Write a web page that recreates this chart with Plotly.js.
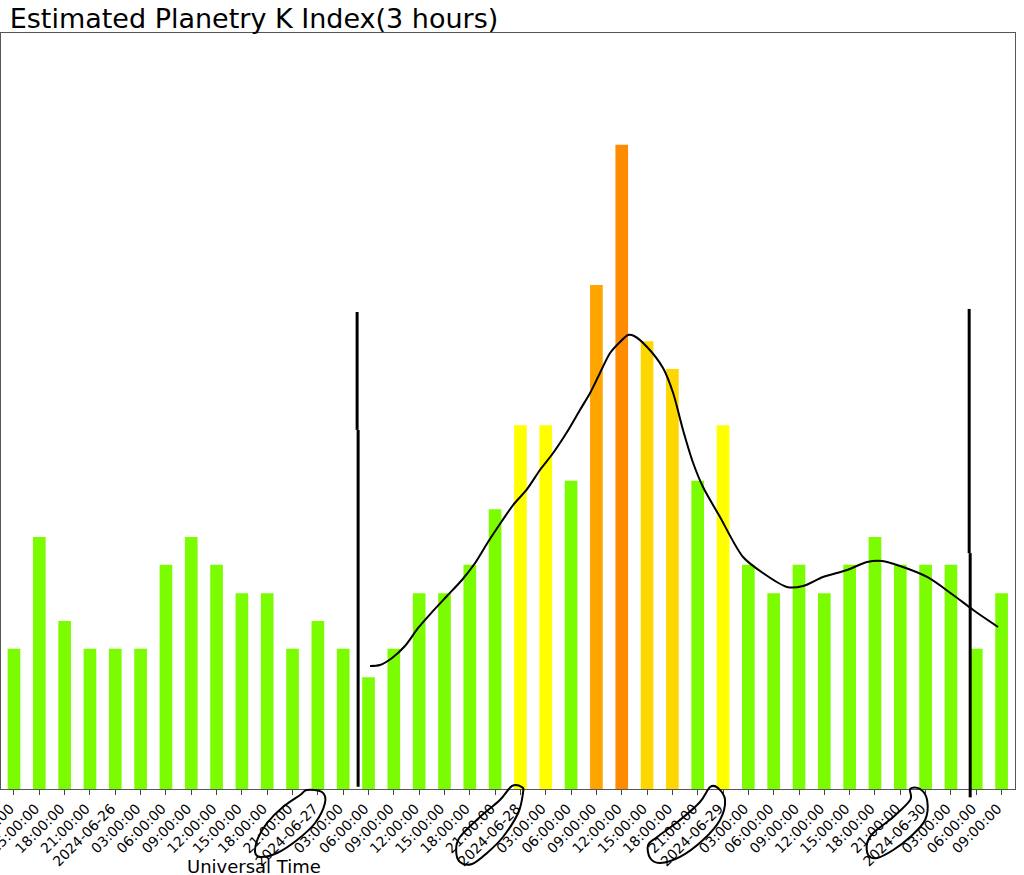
<!DOCTYPE html>
<html>
<head>
<meta charset="utf-8">
<script src="https://cdn.plot.ly/plotly-3.0.1.min.js"></script>
<style>html,body{margin:0;padding:0;background:#fff;}#chart{width:1024px;height:875px;}</style>
</head>
<body>
<div id="chart"></div>
<script>
// Tick labels (3-hour slots, UT)
const tickLabels = [
  "12:00:00","15:00:00","18:00:00","21:00:00","2024-06-26","03:00:00","06:00:00","09:00:00",
  "12:00:00","15:00:00","18:00:00","21:00:00","2024-06-27","03:00:00","06:00:00","09:00:00",
  "12:00:00","15:00:00","18:00:00","21:00:00","2024-06-28","03:00:00","06:00:00","09:00:00",
  "12:00:00","15:00:00","18:00:00","21:00:00","2024-06-29","03:00:00","06:00:00","09:00:00",
  "12:00:00","15:00:00","18:00:00","21:00:00","2024-06-30","03:00:00","06:00:00","09:00:00"
];
// Estimated Kp values
const kpValues = [
  1.67,3.00,2.00,1.67,1.67,1.67,2.67,3.00,
  2.67,2.33,2.33,1.67,2.00,1.67,1.33,1.67,
  2.33,2.33,2.67,3.33,4.33,4.33,3.67,6.00,
  7.67,5.33,5.00,3.67,4.33,2.67,2.33,2.67,
  2.33,2.67,3.00,2.67,2.67,2.67,1.67,2.33
];
// Hand-drawn trend curve (bar index, Kp)
const curveX = [14.06,14.45,14.93,15.44,15.96,16.51,17.10,17.69,18.21,18.72,19.27,19.71,20.26,20.77,21.29,21.84,22.35,22.75,23.14,23.54,23.93,24.25,24.49,25.00,25.63,26.03,26.42,26.82,27.21,27.88,28.79,29.58,30.53,31.16,31.95,32.90,33.69,34.28,34.99,36.06,37.09,37.88,38.86];
const curveY = [1.464,1.476,1.560,1.702,1.917,2.107,2.298,2.488,2.690,2.940,3.190,3.380,3.570,3.798,4.000,4.250,4.512,4.714,4.952,5.190,5.321,5.405,5.393,5.262,5.012,4.714,4.274,3.881,3.595,3.238,2.762,2.571,2.405,2.417,2.524,2.607,2.702,2.714,2.655,2.524,2.310,2.131,1.929];
// Hand-drawn loops round the date labels (bar index, paper y)
const loop1 = [[11.57,-0.0013],[12.16,-0.0040],[12.28,-0.0185],[11.89,-0.0450],[11.18,-0.0675],[10.39,-0.0847],[9.72,-0.0899],[9.52,-0.0833],[9.64,-0.0648],[9.99,-0.0450],[10.62,-0.0238],[11.30,-0.0079]];
const loop2 = [[19.67,0.0040],[20.06,0.0026],[20.10,-0.0053],[19.91,-0.0317],[19.31,-0.0635],[18.68,-0.0847],[18.09,-0.0992],[17.61,-0.0966],[17.46,-0.0807],[17.61,-0.0635],[18.40,-0.0370],[19.19,-0.0146]];
const loop3 = [[27.49,0.0026],[27.80,0.0013],[28.08,-0.0146],[27.88,-0.0410],[27.21,-0.0675],[26.30,-0.0899],[25.51,-0.0979],[25.12,-0.0913],[25.04,-0.0741],[25.40,-0.0635],[26.30,-0.0410],[27.09,-0.0172]];
const loop4 = [[35.39,0.0000],[35.78,0.0000],[36.06,-0.0146],[35.98,-0.0410],[35.39,-0.0635],[34.72,-0.0807],[34.08,-0.0913],[33.73,-0.0873],[33.69,-0.0714],[33.93,-0.0582],[34.72,-0.0370],[35.39,-0.0146]];
// Hand-drawn vertical markers: [x, yStart, yEnd] in (bar index, paper)
const markers = [[13.55,0.631,0.475],[13.59,0.475,0.003],[37.72,0.635,0.312],[37.76,0.312,-0.011]];

function kpColor(v){
  if (v < 4) return "#7CFC00";
  if (v < 5) return "#FFFF00";
  if (v < 6) return "#FFD700";
  if (v < 7) return "#FFA500";
  return "#FF8C00";
}
function closedSpline(pts){
  const n = pts.length;
  let d = "M " + pts[0][0] + "," + pts[0][1];
  for (let k = 0; k < n; k++){
    const p0 = pts[(k-1+n)%n], p1 = pts[k], p2 = pts[(k+1)%n], p3 = pts[(k+2)%n];
    const c1 = [p1[0] + (p2[0]-p0[0])/6, p1[1] + (p2[1]-p0[1])/6];
    const c2 = [p2[0] - (p3[0]-p1[0])/6, p2[1] - (p3[1]-p1[1])/6];
    d += " C " + c1[0] + "," + c1[1] + " " + c2[0] + "," + c2[1] + " " + p2[0] + "," + p2[1];
  }
  return d + " Z";
}

const idx = kpValues.map((_, i) => i);
const traces = [
  {type:"bar", x: idx, y: kpValues, width: 0.5,
   marker:{color: kpValues.map(kpColor), line:{width:0}}, hoverinfo:"skip"},
  {type:"scatter", mode:"lines", x: curveX, y: curveY,
   line:{color:"#000", width:2, shape:"spline", smoothing:0.8}, hoverinfo:"skip"}
];

const shapes = [];
[loop1, loop2, loop3, loop4].forEach(l => shapes.push({
  type:"path", xref:"x", yref:"paper", path: closedSpline(l),
  line:{color:"#000", width:2}, fillcolor:"rgba(0,0,0,0)", layer:"above"
}));
markers.forEach(m => shapes.push({
  type:"line", xref:"x", yref:"paper", x0:m[0], x1:m[0], y0:m[1], y1:m[2],
  line:{color:"#000", width:3}, layer:"above"
}));

const layout = {
  width:1024, height:875,
  margin:{l:1, r:9, t:33, b:86, pad:0},
  paper_bgcolor:"#fff", plot_bgcolor:"#fff",
  showlegend:false,
  font:{family:"DejaVu Sans", color:"#000"},
  title:{text:"Estimated Planetry K Index(3 hours)", font:{size:27, family:"DejaVu Sans", color:"#000"},
         xref:"container", x:254/1024, xanchor:"center", yref:"container", y:1-19/875, yanchor:"middle"},
  xaxis:{range:[-0.513, 39.53], tickmode:"array", tickvals: idx, ticktext: tickLabels,
         tickangle:-45, tickfont:{size:14, family:"DejaVu Sans", color:"#000"},
         ticklabeloverflow:"allow", ticklabelshift:-4, ticklabelstandoff:0,
         ticks:"outside", ticklen:5, tickcolor:"#444", tickwidth:1,
         showline:true, linecolor:"#555", linewidth:1, mirror:true,
         showgrid:false, zeroline:false, automargin:false, fixedrange:true},
  yaxis:{range:[0,9], showticklabels:false, ticks:"", showline:true, linecolor:"#555", linewidth:1,
         mirror:true, showgrid:false, zeroline:false, automargin:false, fixedrange:true},
  shapes: shapes,
  annotations:[{text:"Universal Time", xref:"paper", yref:"paper", x:253/1014, y:-77/756,
                xanchor:"center", yanchor:"middle", showarrow:false,
                font:{size:18, family:"DejaVu Sans", color:"#000"}}]
};

Plotly.newPlot("chart", traces, layout, {displayModeBar:false, staticPlot:true});
</script>
</body>
</html>
